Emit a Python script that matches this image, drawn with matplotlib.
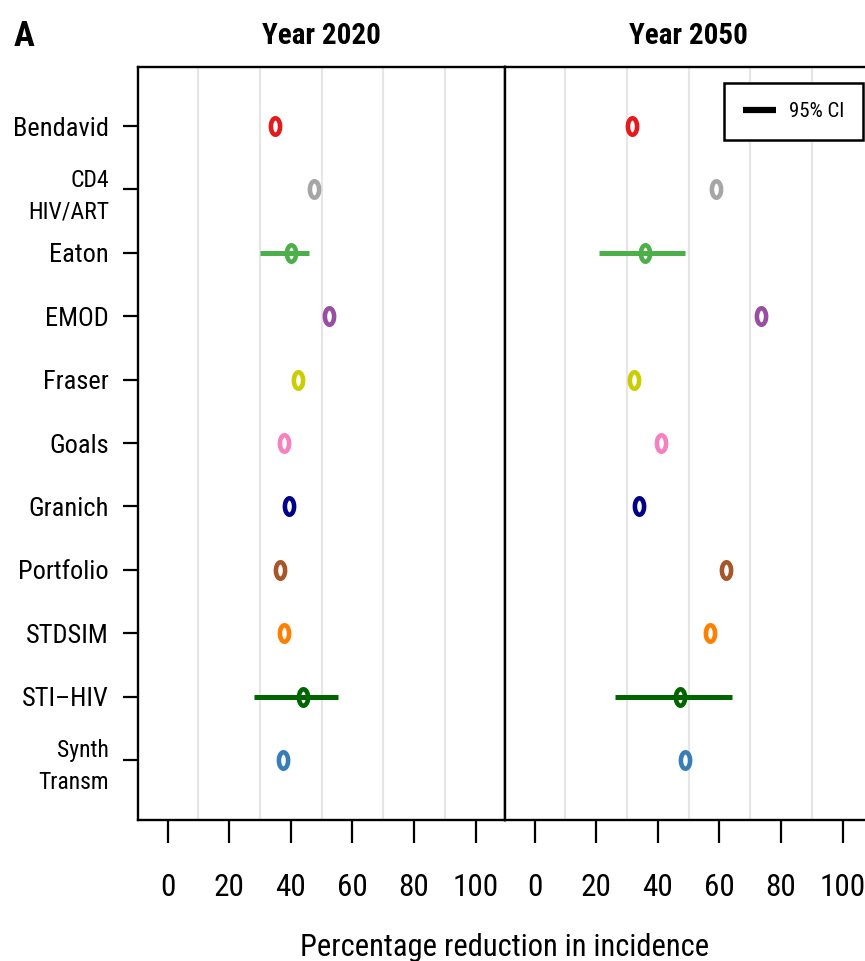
import matplotlib

matplotlib.use("Agg")

import numpy as np
import matplotlib.pyplot as plt
import matplotlib.font_manager as fm
from matplotlib.lines import Line2D
from matplotlib.path import Path

# --- data ---
models = ["Bendavid", "CD4\nHIV/ART", "Eaton", "EMOD", "Fraser", "Goals",
          "Granich", "Portfolio", "STDSIM", "STI\u2013HIV", "Synth\nTransm"]
model_colors = ["#e41a1c", "#a6a6a6", "#4daf4a", "#984ea3", "#cccc00", "#f781bf",
                "#00008b", "#a65628", "#ff7f00", "#006400", "#377eb8"]
est_2020 = [34.7, 47.6, 40.0, 52.3, 42.4, 37.7, 39.4, 36.4, 37.7, 43.9, 37.4]
est_2050 = [31.5, 59.0, 35.8, 73.6, 32.3, 40.9, 33.9, 62.2, 56.9, 47.1, 48.7]

ci_rows = [2, 9]  # Eaton, STI-HIV
ci_2020_low = [29.9, 28.1]
ci_2020_high = [45.8, 55.3]
ci_2050_low = [20.9, 26.1]
ci_2050_high = [48.7, 64.2]

panel_titles = ["Year 2020", "Year 2050"]
x_ticks = [0, 20, 40, 60, 80, 100]
x_grid = list(range(0, 101, 10))


def pick_narrow_font():
    # the reference uses a tall, narrow Helvetica; use a condensed face if one exists
    fonts = fm.fontManager.ttflist
    preferred = ["Liberation Sans Narrow", "Roboto Condensed", "Open Sans Condensed",
                 "DejaVu Sans", "Noto Sans", "Inter", "Roboto", "Open Sans"]
    for name in preferred:
        for f in fonts:
            if f.name != name:
                continue
            if "Narrow" in f.name or "Condensed" in f.name:
                return f.name, "normal", True
            if str(f.stretch) in ("condensed", "semi-condensed", "extra-condensed"):
                return f.name, str(f.stretch), True
    for f in fonts:
        if "Narrow" in f.name or "Condensed" in f.name:
            return f.name, "normal", True
    return "Liberation Sans", "normal", False


FAMILY, STRETCH, IS_NARROW = pick_narrow_font()
plt.rcParams["font.family"] = [FAMILY, "Liberation Sans", "DejaVu Sans"]
plt.rcParams["font.stretch"] = STRETCH
SCALE = 1.0 if IS_NARROW else 0.84

W, H = 865, 961


def fx(px):
    return px / W


def fy(py):
    return 1 - py / H


# tall, narrow ring marker
theta = np.linspace(0, 2 * np.pi, 80)
ring = Path(np.column_stack([0.56 * np.cos(theta), np.sin(theta)]), closed=True)

fig = plt.figure(figsize=(W / 100, H / 100), dpi=100)

ax_left, ax_top, ax_bottom = 138, 66.5, 819.5
panel_w = 367
y_pos = np.arange(1, len(models) + 1)

axes = []
for i, (title, est, lo, hi) in enumerate(zip(
        panel_titles, [est_2020, est_2050],
        [ci_2020_low, ci_2050_low], [ci_2020_high, ci_2050_high])):
    left = ax_left + i * panel_w
    ax = fig.add_axes([fx(left), fy(ax_bottom), panel_w / W, (ax_bottom - ax_top) / H])
    axes.append(ax)

    ax.set_xlim(-9.6, 109.5)
    ax.set_ylim(len(models) + 0.94, 0.06)
    ax.set_axisbelow(True)

    ax.set_xticks(x_grid, minor=True)
    ax.grid(which="minor", axis="x", color="#e6e6e6", linewidth=1.6)
    ax.tick_params(which="minor", length=0)

    for k, row in enumerate(ci_rows):
        ax.plot([lo[k], hi[k]], [y_pos[row], y_pos[row]], color=model_colors[row],
                linewidth=3.6, solid_capstyle="butt", zorder=2)
    for yy, xx, c in zip(y_pos, est, model_colors):
        ax.plot(xx, yy, marker=ring, markersize=11.8, markerfacecolor="none",
                markeredgecolor=c, markeredgewidth=3.3, linestyle="none", zorder=3)

    for sp in ax.spines.values():
        sp.set_linewidth(1.7)

    ax.set_xticks(x_ticks)
    ax.set_xticklabels([str(t) for t in x_ticks], fontsize=22.5 * SCALE)
    ax.tick_params(axis="x", which="major", direction="out", length=16.5, width=1.6,
                   pad=22)

    fig.text(fx(left + panel_w / 2), fy(36), title, ha="center", va="center",
             fontsize=21 * SCALE, fontweight="bold")

    if i == 0:
        ax.set_yticks(y_pos)
        ax.set_yticklabels(models)
        ax.tick_params(axis="y", direction="out", length=11, width=1.6, pad=10)
        for lab in ax.get_yticklabels():
            if "\n" in lab.get_text():
                lab.set_fontsize(17 * SCALE)
                lab.set_linespacing(1.5 / SCALE)
            else:
                lab.set_fontsize(19 * SCALE)
    else:
        ax.set_yticks([])

# legend on the right panel
handle = Line2D([], [], color="black", linewidth=4.5, solid_capstyle="butt")
leg = axes[1].legend([handle], ["95% CI"], loc="upper right",
                     bbox_to_anchor=(0.975, 0.978), borderaxespad=0,
                     fontsize=15 * SCALE, handlelength=1.6 / SCALE,
                     handletextpad=0.6, borderpad=0.9 / SCALE,
                     fancybox=False, framealpha=1)
leg.get_frame().set_edgecolor("black")
leg.get_frame().set_linewidth(1.8)

fig.text(fx(24), fy(36), "A", ha="center", va="center", fontsize=25 * SCALE,
         fontweight="bold")
fig.text(fx(505), fy(933), "Percentage reduction in incidence", ha="center", va="top",
         fontsize=22 * SCALE)

fig.savefig("out.png", dpi=100)
